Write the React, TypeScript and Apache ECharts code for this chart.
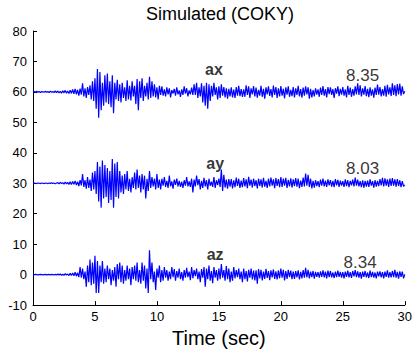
import React, { useEffect, useRef } from "react";
import * as echarts from "echarts";

const DT = 0.1;
const OFFSETS = [60, 30, 0];
const TRACE_NAMES = ["ax", "ay", "az"];
const PEAK_LABELS = ["8.35", "8.03", "8.34"];
const X_TICKS = [0, 5, 10, 15, 20, 25, 30];
const Y_TICKS = [-10, 0, 10, 20, 30, 40, 50, 60, 70, 80];

// deviations from the offset line, one value per 0.1 s, t = 0 .. 30 s
const ax = [
  0, 0.1, -0.1, 0.2, -0.1, 0.1, -0.2, 0.1, 0, -0.1,
  0.2, -0.1, 0.1, -0.2, 0.2, -0.1, 0.1, -0.2, 0.3, -0.2,
  0.3, -0.3, 0.2, -0.4, 0.4, -0.3, 0.5, -0.4, 0.3, -0.5,
  0.6, -0.5, 0.8, -0.6, 1.0, -0.8, 0.7, -1.2, 1.1, -0.9,
  2.8, -1.5, 1.2, -2.0, 1.6, -1.0, 2.2, -2.5, 3.5, -3.0,
  4.5, -5.5, 7.5, -8.5, 6.5, -6.0, 3.0, -4.5, 5.5, -3.5,
  6.0, -4.0, 3.5, -5.0, 5.5, -7.0, 3.0, -2.5, 4.0, -3.0,
  2.5, -3.5, 3.0, -2.0, 1.5, -3.0, 3.8, -2.5, 2.0, -2.8,
  3.5, -1.5, 2.0, -4.0, 4.2, -6.0, 3.5, -2.0, 4.5, -3.0,
  2.0, -1.5, 3.0, -2.5, 5.0, -2.0, 3.5, -1.5, 2.5, -1.8,
  1.5, -2.5, 2.0, -1.0, 1.8, -1.2, 0.8, -1.5, 1.5, -0.8,
  1.2, -1.8, 0.6, -0.5, 1.0, -1.2, 1.5, -0.8, 0.5, -1.6,
  0.8, -1.0, 1.8, -0.6, 1.2, -1.5, 0.5, -0.8, 1.4, -1.0,
  2.5, -1.0, 3.0, -2.0, 1.5, -1.5, 2.8, -3.5, 2.0, -4.5,
  3.0, -5.5, 2.5, -3.0, 2.0, -1.5, 3.0, -1.0, 1.5, -2.5,
  1.8, -2.0, 2.5, -1.2, 1.6, -1.8, 1.2, -2.2, 1.0, -1.5,
  1.5, -1.8, 0.8, -2.0, 1.6, -1.2, 2.0, -1.4, 0.9, -1.6,
  0.8, -1.6, 2.2, -1.0, 1.8, -2.0, 1.2, -0.8, 1.9, -1.5,
  1.4, -1.9, 0.7, -1.2, 2.0, -1.6, 1.0, -2.2, 1.5, -0.8,
  1.8, -1.3, 0.9, -1.8, 2.1, -1.0, 1.6, -2.0, 1.2, -1.5,
  1.9, -1.2, 1.0, -2.1, 1.5, -0.9, 1.8, -1.6, 0.7, -1.4,
  1.6, -1.8, 1.2, -1.0, 2.0, -1.5, 0.9, -1.9, 1.4, -1.2,
  1.8, -0.8, 1.5, -2.2, 1.0, -1.8, 0.6, -1.5, 1.2, -0.9,
  0.8, -1.6, 1.4, -1.0, 1.9, -1.2, 0.9, -1.8, 1.6, -0.7,
  1.5, -1.0, 0.9, -2.0, 1.2, -0.6, 1.8, -1.4, 1.0, -0.9,
  1.6, -1.2, 0.8, -1.8, 2.0, -1.0, 1.4, -1.6, 0.9, -1.2,
  1.8, -0.8, 2.8, -1.0, 2.2, -1.5, 1.2, -0.9, 1.9, -1.4,
  1.0, -1.7, 1.5, -1.2, 0.8, -1.9, 1.4, -1.0, 2.4, -0.9,
  1.6, -1.5, 0.9, -1.2, 2.0, -1.6, 2.3, -0.8, 1.5, -1.3,
  2.8, -1.0, 2.2, -1.4, 2.6, -0.8, 2.7, -1.2, 1.8, -0.7,
  0.2,
];

const ay = [
  0, 0.1, 0, -0.1, 0.1, 0, -0.1, 0.1, 0, -0.1,
  0.1, 0, -0.1, 0.1, -0.1, 0.2, -0.1, 0.1, -0.2, 0.1,
  0.2, -0.2, 0.3, -0.1, 0.2, -0.3, 0.4, -0.2, 0.3, -0.4,
  0.5, -0.4, 0.6, -0.3, 0.8, -0.6, 0.5, -0.9, 1.0, -0.7,
  3.0, -1.2, 1.0, -1.8, 2.0, -1.5, 1.2, -2.5, 3.5, -2.0,
  4.0, -3.5, 7.0, -6.0, 5.5, -8.0, 7.5, -5.0, 6.0, -4.5,
  5.0, -6.5, 4.0, -5.5, 8.0, -8.0, 6.5, -4.5, 7.0, -5.0,
  4.0, -3.0, 2.5, -3.5, 3.0, -2.0, 4.0, -2.5, 1.5, -3.0,
  2.0, -1.5, 3.5, -2.0, 4.5, -1.5, 2.5, -3.0, 3.0, -2.0,
  2.5, -5.0, 1.5, -2.5, 4.0, -1.5, 2.0, -1.0, 1.5, -2.0,
  3.0, -1.5, 1.2, -2.0, 1.5, -0.8, 2.0, -1.2, 0.8, -1.5,
  2.5, -1.0, 0.6, -1.8, 1.2, -0.5, 1.5, -1.0, 0.8, -1.2,
  0.5, -1.5, 1.0, -0.8, 2.0, -1.0, 0.6, -1.2, 1.5, -3.0,
  1.2, -1.0, 2.5, -0.6, 1.4, -2.0, 0.8, -1.5, 1.8, -1.0,
  1.0, -2.0, 1.5, -0.8, 0.5, -1.2, 2.0, -1.5, 1.0, -0.6,
  1.5, -1.2, 4.5, -2.5, 2.8, -1.4, 1.2, -1.8, 1.4, -1.1,
  1.4, -1.7, 1.0, -1.3, 1.9, -0.9, 1.5, -1.5, 0.9, -1.3,
  1.7, -1.0, 1.3, -1.6, 2.1, -0.8, 1.2, -1.4, 1.5, -0.9,
  1.0, -1.7, 1.5, -0.9, 1.3, -1.4, 1.8, -1.1, 0.8, -1.5,
  1.5, -1.0, 1.9, -0.8, 1.3, -1.6, 1.7, -0.9, 1.4, -1.3,
  2.0, -1.2, 1.5, -0.8, 1.8, -1.5, 1.1, -1.0, 1.6, -1.4,
  1.3, -0.9, 1.7, -1.1, 1.5, -1.6, 0.9, -1.2, 1.9, -1.0,
  3.2, -0.8, 2.8, -1.2, 1.5, -1.7, 0.8, -1.4, 1.0, -0.9,
  0.7, -1.3, 1.2, -0.8, 1.5, -1.0, 0.9, -1.2, 1.3, -0.7,
  1.0, -1.1, 0.8, -1.3, 1.4, -0.7, 1.1, -1.2, 0.9, -0.8,
  0.7, -1.2, 1.3, -0.9, 1.0, -1.3, 0.8, -0.7, 1.2, -1.0,
  1.9, -0.8, 1.2, -1.0, 0.7, -1.3, 1.0, -1.4, 0.8, -1.1,
  0.9, -1.2, 1.3, -0.8, 0.7, -1.4, 1.0, -1.1, 0.8, -0.9,
  1.4, -0.7, 1.8, -1.0, 1.6, -0.8, 1.3, -1.2, 1.5, -0.9,
  1.7, -0.8, 1.3, -1.1, 1.4, -0.9, 1.0, -1.3, 0.7, -1.0,
  -0.5,
];

const az = [
  0, 0, 0.1, 0, -0.1, 0, 0.1, 0, -0.1, 0,
  0.1, -0.1, 0, 0.1, -0.1, 0.1, 0, -0.1, 0.1, -0.1,
  0.2, -0.1, 0.2, -0.2, 0.1, -0.2, 0.3, -0.1, 0.2, -0.3,
  0.4, -0.3, 0.5, -0.4, 0.8, -0.5, 0.6, -0.8, 2.5, -1.0,
  2.0, -1.5, 1.0, -4.0, 3.0, -2.5, 5.0, -3.5, 4.0, -3.0,
  6.2, -6.0, 4.5, -6.0, 3.0, -2.5, 4.5, -3.0, 2.0, -2.5,
  3.0, -1.5, 2.0, -3.5, 1.5, -2.0, 2.5, -4.0, 3.5, -1.5,
  4.0, -2.5, 3.0, -3.0, 1.5, -2.0, 3.0, -1.5, 2.0, -3.5,
  2.5, -1.5, 3.0, -2.0, 4.0, -2.5, 1.5, -3.0, 4.0, -2.0,
  3.0, -4.5, 2.0, -6.0, 8.0, -1.5, 4.0, -2.5, 1.0, -5.0,
  2.0, -1.0, 3.0, -2.5, 1.5, -2.0, 2.5, -1.0, 1.5, -2.0,
  1.0, -1.5, 2.5, -0.8, 1.8, -2.0, 1.2, -1.0, 2.0, -1.5,
  0.8, -2.0, 1.5, -1.0, 2.2, -0.8, 1.0, -1.8, 2.5, -1.2,
  1.5, -0.5, 2.0, -1.5, 1.0, -2.5, 1.8, -1.0, 2.5, -4.0,
  2.0, -1.5, 3.0, -2.0, 1.2, -2.8, 2.5, -1.0, 1.5, -2.0,
  2.0, -1.5, 3.5, -1.0, 1.5, -2.0, 2.8, -1.5, 2.0, -2.5,
  1.0, -2.0, 2.5, -1.2, 1.5, -0.8, 2.0, -1.5, 1.0, -2.5,
  2.0, -1.5, 1.2, -2.2, 1.6, -1.0, 2.0, -1.6, 1.3, -1.9,
  1.4, -3.0, 1.8, -1.2, 1.6, -1.9, 1.0, -1.4, 1.9, -1.1,
  1.2, -1.8, 1.4, -0.9, 1.7, -1.4, 1.1, -1.6, 1.4, -1.2,
  2.0, -1.0, 1.6, -1.9, 1.2, -1.4, 1.6, -0.8, 1.3, -1.5,
  1.0, -1.4, 1.2, -0.9, 1.4, -1.6, 0.9, -1.2, 1.5, -1.0,
  2.2, -0.9, 1.6, -1.2, 1.0, -0.8, 1.2, -1.3, 0.9, -0.7,
  0.8, -1.0, 1.1, -0.7, 1.4, -0.9, 1.0, -1.2, 1.3, -0.8,
  1.2, -0.9, 0.7, -1.1, 1.0, -0.8, 1.3, -0.7, 0.9, -1.0,
  0.8, -1.2, 1.0, -0.7, 1.3, -0.9, 0.8, -1.1, 1.2, -0.6,
  1.5, -0.8, 1.1, -1.0, 0.8, -1.3, 1.0, -0.7, 1.2, -0.9,
  0.7, -1.1, 1.3, -0.8, 0.9, -1.0, 0.7, -1.2, 1.0, -0.6,
  1.1, -0.9, 0.8, -1.2, 1.0, -0.7, 1.4, -1.0, 0.8, -0.9,
  1.2, -0.8, 1.6, -1.0, 0.9, -1.3, 1.1, -0.7, 1.0, -1.2,
  0.1,
];

const TRACES = [ax, ay, az];
const FONT = "'Liberation Sans', Arial, Helvetica, sans-serif";

export default function App() {
  const ref = useRef<HTMLDivElement>(null);

  useEffect(() => {
    if (!ref.current) return;
    const chart = echarts.init(ref.current, null, { renderer: "svg" });

    const series = TRACES.map((trace, k) => ({
      type: "line",
      name: TRACE_NAMES[k],
      data: trace.map((v, i) => [+(i * DT).toFixed(1), v + OFFSETS[k]]),
      showSymbol: false,
      symbol: "none",
      lineStyle: { color: "#0000ff", width: 1.2 },
      itemStyle: { color: "#0000ff" },
      z: 2,
    }));

    // label positions in data space: [x, y]
    const nameAt = [[14.6, 67.5], [14.7, 36.5], [14.7, 6.5]];
    const valAt = [[26.6, 65.5], [26.6, 35], [26.4, 4]];

    chart.setOption({
      animation: false,
      backgroundColor: "#ffffff",
      grid: { left: 33, right: 6, top: 31, bottom: 39, containLabel: false },
      xAxis: {
        type: "value",
        min: X_TICKS[0],
        max: X_TICKS[X_TICKS.length - 1],
        interval: 5,
        name: "Time (sec)",
        nameLocation: "middle",
        nameGap: 22,
        nameTextStyle: { fontSize: 20, color: "#000", fontFamily: FONT },
        axisLine: { onZero: false, lineStyle: { color: "#000", width: 1 } },
        axisTick: { inside: true, length: 4, lineStyle: { color: "#000" } },
        axisLabel: { color: "#000", fontSize: 13, margin: 5, fontFamily: FONT },
        splitLine: { show: false },
      },
      yAxis: {
        type: "value",
        min: Y_TICKS[0],
        max: Y_TICKS[Y_TICKS.length - 1],
        interval: 10,
        axisLine: { show: true, onZero: false, lineStyle: { color: "#000", width: 1 } },
        axisTick: { show: true, inside: true, length: 4, lineStyle: { color: "#000" } },
        axisLabel: { color: "#000", fontSize: 13, margin: 6, fontFamily: FONT },
        splitLine: { show: false },
      },
      series: [
        ...series,
        {
          type: "scatter",
          data: nameAt.map((p, k) => ({ value: p, name: TRACE_NAMES[k] })),
          symbolSize: 0,
          silent: true,
          label: {
            show: true,
            position: "inside",
            formatter: (p: any) => p.name,
            fontSize: 16,
            fontWeight: "bold",
            color: "#000",
            fontFamily: FONT,
          },
          z: 5,
        },
        {
          type: "scatter",
          data: valAt.map((p, k) => ({ value: p, name: PEAK_LABELS[k] })),
          symbolSize: 0,
          silent: true,
          label: {
            show: true,
            position: "inside",
            formatter: (p: any) => p.name,
            fontSize: 17,
            color: "#000",
            fontFamily: FONT,
          },
          z: 5,
        },
      ],
      graphic: [
        {
          type: "text",
          x: 220,
          y: 14,
          style: {
            text: "Simulated (COKY)",
            fontSize: 18,
            fontFamily: FONT,
            fill: "#000",
            textAlign: "center",
            textVerticalAlign: "middle",
          },
        },
      ],
    });

    return () => chart.dispose();
  }, []);

  return (
    <div
      ref={ref}
      style={{ position: "fixed", left: 0, top: 0, width: 415, height: 353 }}
    />
  );
}
